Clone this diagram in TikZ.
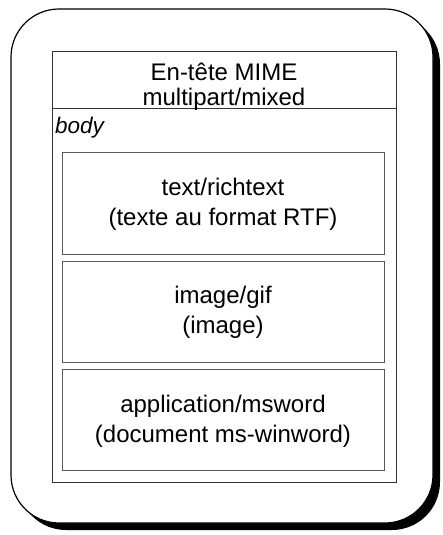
\documentclass[tikz,border=0pt]{standalone}
\usepackage{fontspec}
\setmainfont{Liberation Sans}
\begin{document}
\begin{tikzpicture}[x=1pt,y=-1pt,
  frameline/.style={draw=black!80,line width=0.8pt},
  partbox/.style={draw=black!65,line width=1.3pt,minimum width=322pt,minimum height=102pt,inner sep=0pt,anchor=north west},
  lbl/.style={inner sep=0pt,anchor=base,font=\fontsize{24}{28}\selectfont}]
\useasboundingbox (0,0) rectangle (442,535);
% rounded card with drop shadow
\fill[black,rounded corners=48pt] (18,16) rectangle (440,530);
\draw[fill=white,line width=1.2pt,rounded corners=48pt] (11,9) rectangle (433,523);
% message frame and header separator
\node[frameline,minimum width=344pt,minimum height=431pt,inner sep=0pt,anchor=north west] (msg) at (52,51) {};
\coordinate (sepL) at (52,108);
\coordinate (sepR) at (396,108);
\draw[frameline] (sepL) -- (sepR);
\node[lbl] (h1) at (224,80) {En-tête MIME};
\node[lbl] (h2) at (224,105) {multipart/mixed};
\node[inner sep=0pt,anchor=base west,font=\fontsize{22.5}{26}\selectfont\itshape] (body) at (55,133) {body};
% body parts
\node[partbox] (p1) at (62,152) {};
\node[partbox,minimum height=101pt] (p2) at (62,261) {};
\node[partbox,minimum height=101pt] (p3) at (62,369) {};
\node[lbl] (p1a) at (223,195) {text/richtext};
\node[lbl] (p1b) at (223,225) {(texte au format RTF)};
\node[lbl] (p2a) at (223,303) {image/gif};
\node[lbl] (p2b) at (223,333) {(image)};
\node[lbl] (p3a) at (223,412) {application/msword};
\node[lbl] (p3b) at (223,442) {(document ms-winword)};
\end{tikzpicture}
\end{document}
